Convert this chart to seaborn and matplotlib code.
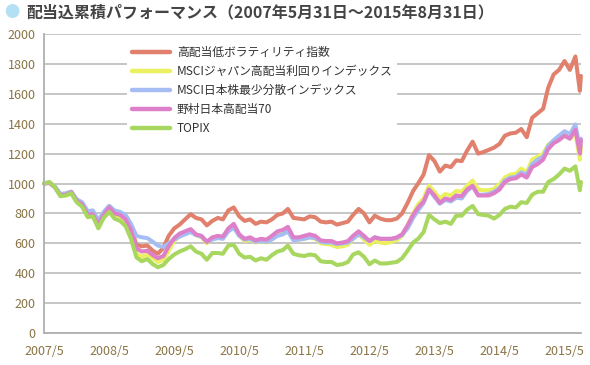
#!/usr/bin/env python3
"""
配当込累積パフォーマンス chart (2007/5/31 - 2015/8/31)
"""

import matplotlib
matplotlib.use("Agg")
import matplotlib.pyplot as plt
import seaborn as sns
import pandas as pd

sns.set_style("white")
plt.rcParams['font.family'] = ['Noto Sans CJK JP', 'DejaVu Sans']

# month-end observations + the late-August 2015 sell-off
dates = list(pd.date_range('2007-05-31', '2015-07-31', freq='ME')) + \
        [pd.Timestamp('2015-08-25'), pd.Timestamp('2015-08-31')]

series_names = ['高配当低ボラティリティ指数', 'MSCIジャパン高配当利回りインデックス',
                'MSCI日本株最少分散インデックス', '野村日本高配当70', 'TOPIX']
series_colors = ['#e0806d', '#eaf05e', '#a5bdf3', '#de80c9', '#a8d760']

high_div_low_vol = [
    1000, 1005, 975, 925, 930, 945, 890, 865,
    800, 805, 735, 800, 850, 810, 800, 775, 700, 590, 580, 585,
    550, 530, 570, 650, 700, 725, 760, 795, 770, 760, 720, 750,
    770, 760, 820, 840, 780, 750, 760, 730, 745, 740, 760, 790,
    800, 830, 770, 765, 760, 780, 775, 745, 740, 745, 725, 735,
    745, 790, 830, 800, 740, 785, 765, 755, 755, 765, 800, 870,
    950, 1000, 1060, 1190, 1150, 1080, 1120, 1110, 1155, 1150, 1220, 1280,
    1200, 1210, 1225, 1240, 1265, 1320, 1335, 1340, 1365, 1310, 1440, 1470,
    1500, 1640, 1730, 1760, 1820, 1760, 1850, 1620, 1720]

msci_high_yield = [
    1000, 1010, 980, 920, 920, 935, 880, 855,
    790, 790, 715, 780, 830, 790, 780, 745, 670, 530, 510, 525,
    500, 475, 490, 550, 615, 650, 665, 690, 655, 640, 600, 635,
    640, 635, 690, 715, 650, 615, 625, 605, 615, 605, 635, 665,
    675, 695, 625, 625, 630, 640, 630, 600, 595, 590, 575, 580,
    590, 630, 660, 625, 590, 615, 605, 600, 610, 620, 650, 720,
    800, 860, 900, 985, 945, 900, 930, 920, 950, 945, 985, 1020,
    960, 955, 955, 965, 995, 1040, 1060, 1065, 1100, 1075, 1160, 1180,
    1200, 1260, 1285, 1300, 1320, 1300, 1340, 1160, 1250]

msci_min_vol = [
    1000, 1005, 980, 930, 935, 945, 895, 875,
    815, 820, 755, 810, 850, 820, 810, 790, 730, 650, 640, 635,
    610, 585, 575, 600, 625, 645, 660, 675, 655, 645, 610, 625,
    635, 630, 680, 705, 650, 625, 630, 610, 615, 610, 625, 650,
    660, 680, 620, 625, 630, 640, 635, 610, 605, 605, 595, 600,
    605, 630, 660, 640, 615, 640, 630, 630, 630, 635, 655, 700,
    770, 820, 870, 960, 910, 865, 890, 880, 905, 900, 950, 980,
    925, 925, 930, 945, 970, 1020, 1040, 1045, 1075, 1060, 1130, 1160,
    1180, 1250, 1290, 1320, 1350, 1330, 1395, 1240, 1300]

nomura_high_div70 = [
    1000, 1005, 975, 920, 925, 940, 885, 860,
    790, 795, 725, 790, 840, 800, 790, 760, 690, 565, 545, 550,
    520, 500, 515, 580, 635, 665, 680, 695, 660, 650, 610, 640,
    650, 645, 700, 730, 660, 630, 640, 620, 630, 625, 650, 680,
    690, 710, 640, 640, 650, 660, 650, 620, 615, 615, 600, 605,
    615, 650, 680, 650, 615, 640, 630, 630, 630, 640, 660, 720,
    790, 840, 880, 960, 920, 870, 900, 890, 920, 915, 960, 985,
    920, 920, 920, 935, 960, 1010, 1030, 1035, 1060, 1040, 1110, 1130,
    1160, 1230, 1270, 1290, 1320, 1300, 1360, 1200, 1290]

topix = [
    1000, 1010, 975, 915, 920, 935, 875, 845,
    775, 780, 700, 770, 810, 765, 750, 715, 630, 505, 480, 495,
    460, 440, 455, 495, 525, 545, 560, 580, 545, 530, 490, 535,
    535, 530, 585, 590, 530, 505, 510, 485, 500, 490, 520, 545,
    555, 585, 530, 520, 515, 525, 520, 480, 475, 475, 455, 460,
    475, 525, 540, 510, 460, 485, 465, 465, 470, 475, 500, 550,
    605, 630, 675, 790, 760, 735, 745, 730, 785, 785, 825, 850,
    795, 790, 785, 765, 790, 830, 845, 840, 875, 870, 925, 945,
    945, 1010, 1030, 1060, 1100, 1085, 1115, 955, 1010]

year_ticks = [pd.Timestamp(f'{y}-05-31') for y in range(2007, 2016)]
year_labels = [f'{y}/5' for y in range(2007, 2016)]

df = pd.DataFrame({'date': dates})
for name, vals in zip(series_names, [high_div_low_vol, msci_high_yield, msci_min_vol,
                                     nomura_high_div70, topix]):
    df[name] = vals
long_df = df.melt(id_vars='date', var_name='series', value_name='value')

fig = plt.figure(figsize=(5.9, 3.65), dpi=100)
ax = fig.add_axes([0.0746, 0.0877, 0.910, 0.819])

sns.lineplot(data=long_df, x='date', y='value', hue='series', hue_order=series_names,
             palette=series_colors, linewidth=2.9, ax=ax, legend=True)
for line in ax.get_lines():
    line.set_clip_on(False)
    line.set_solid_joinstyle('round')

tick_color = '#8a7444'
grid_color = '#c2c2c2'

ax.set_ylim(0, 2000)
ax.set_yticks(range(0, 2001, 200))
ax.set_xlim(pd.Timestamp('2007-05-31'), pd.Timestamp('2015-08-31'))
ax.set_xticks(year_ticks)
ax.set_xticklabels(year_labels)
ax.set_xlabel('')
ax.set_ylabel('')
ax.grid(axis='y', color=grid_color, linewidth=1.3)
ax.set_axisbelow(True)
for side in ['top', 'right']:
    ax.spines[side].set_visible(False)
for side in ['left', 'bottom']:
    ax.spines[side].set_color('#b0b0b0')
    ax.spines[side].set_linewidth(1.3)
ax.tick_params(axis='both', colors=grid_color, labelcolor=tick_color, labelsize=9,
               length=4, width=1.2)
ax.tick_params(axis='y', pad=2)
ax.tick_params(axis='x', pad=5)

handles, labels = ax.get_legend_handles_labels()
leg = ax.legend(handles, labels, loc='upper left', bbox_to_anchor=(0.155, 0.975),
                borderaxespad=0, frameon=True, facecolor='white', edgecolor='none',
                framealpha=1, fontsize=8.5, handlelength=3.2, handletextpad=0.6,
                labelspacing=0.5, borderpad=0.4)
for text in leg.get_texts():
    text.set_color('#333333')
for line in leg.get_lines():
    line.set_linewidth(3.2)

# title with round bullet
fig.text(0.008, 0.965, '●', color='#b4e0f4', fontsize=11, va='center', ha='left')
fig.text(0.044, 0.965, '配当込累積パフォーマンス（2007年5月31日〜2015年8月31日）',
         color='#444444', fontsize=11.5, fontweight='bold', va='center', ha='left')

plt.savefig('out.png', dpi=100)
plt.close()
